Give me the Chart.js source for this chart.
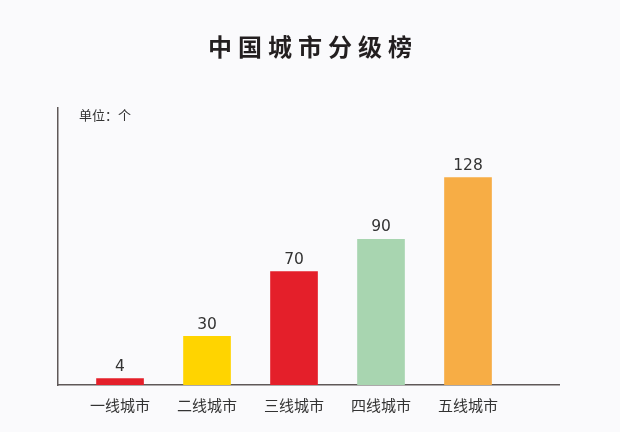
<!DOCTYPE html>
<html><head><meta charset="utf-8">
<script src="https://cdn.jsdelivr.net/npm/chart.js@4/dist/chart.umd.min.js"></script>
<style>
html,body{margin:0;padding:0;background:#fafafc;}
#wrap{position:relative;width:620px;height:432px;}
#title{position:absolute;left:0;top:28px;width:620px;text-align:center;font:bold 24px "Noto Sans CJK SC";letter-spacing:6px;color:#231f20;text-indent:6px;}
#unit{position:absolute;left:79px;top:105px;font:13px "Noto Sans CJK SC";color:#333;}
canvas{position:absolute;left:0;top:0;}
</style></head>
<body><div id="wrap">
<canvas id="c" width="620" height="432"></canvas>
<div id="title">中国城市分级榜</div>
<div id="unit">单位：个</div>
</div>
<script>
const categories = ["一线城市","二线城市","三线城市","四线城市","五线城市"];
const values = [4, 30, 70, 90, 128];
const colors = ["#e41f2a","#ffd400","#e41f2a","#a8d5b0","#f7ad45"];

const labelPlugin = {
  id: 'vals',
  afterDatasetsDraw(chart){
    const ctx = chart.ctx;
    const meta = chart.getDatasetMeta(0);
    ctx.save();
    ctx.font = '15.5px "DejaVu Sans"';
    ctx.fillStyle = '#333';
    ctx.textAlign = 'center';
    ctx.textBaseline = 'bottom';
    meta.data.forEach((bar,i)=>{
      ctx.fillText(String(values[i]), bar.x, bar.y - 4);
    });
    ctx.restore();
  }
};

new Chart(document.getElementById('c'), {
  type: 'bar',
  data: {
    datasets: [{
      data: values.map((v,i)=>({x:i, y:v})),
      backgroundColor: colors,
      barThickness: 47,
      borderWidth: 0
    }]
  },
  options: {
    responsive: false,
    animation: false,
    layout: {padding: {left: 58, right: 61, top: 108, bottom: 0}},
    plugins: {legend: {display: false}, tooltip: {enabled: false}},
    scales: {
      x: {
        type: 'linear',
        offset: false,
        min: -0.713, max: 5.046,
        grid: {display: false, drawTicks: false, offset: false},
        border: {display: true, color: '#5f5858', width: 1.5},
        afterBuildTicks: (s)=>{ s.ticks = categories.map((c,i)=>({value:i})); },
        afterFit: (s)=>{ s.height = 47; },
        ticks: {
          padding: 11,
          autoSkip: false,
          maxRotation: 0,
          color: '#333',
          font: {family: '"Noto Sans CJK SC"', size: 15},
          callback: (v)=> categories[v] ?? ''
        }
      },
      y: {
        min: 0, max: 171,
        grid: {display: false, drawTicks: false},
        border: {display: true, color: '#5f5858', width: 1.5},
        ticks: {display: false},
        afterFit: (s)=>{ s.width = 0; }
      }
    }
  },
  plugins: [labelPlugin]
});
</script>
</body></html>
